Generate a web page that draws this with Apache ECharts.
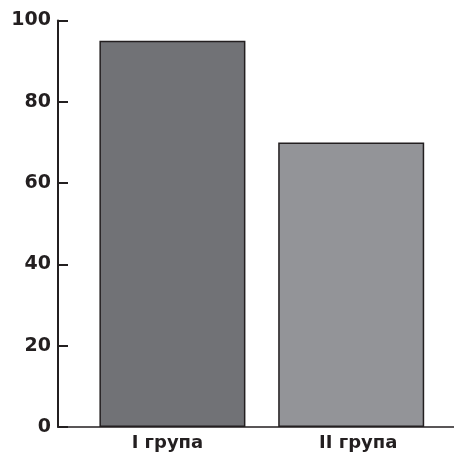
<!DOCTYPE html>
<html>
<head>
<meta charset="utf-8">
<script src="https://cdn.jsdelivr.net/npm/echarts@6/dist/echarts.min.js"></script>
<style>
html,body{margin:0;padding:0;background:#fff;}
#chart{width:454px;height:454px;}
</style>
</head>
<body>
<div id="chart"></div>
<script>
// Data
const categories = ['I група', 'II група'];
const categoryPositions = [1, 2];
const values = [95, 70];
const barColors = ['#717276', '#939498'];
const yTicks = [0, 20, 40, 60, 80, 100];

const chart = echarts.init(document.getElementById('chart'), null, {renderer: 'canvas'});
const ink = '#231f20';
const font = '"DejaVu Sans", Arial, sans-serif';
const labelStyle = {color: ink, fontFamily: font, fontWeight: 'bold', fontSize: 18};
const option = {
  animation: false,
  grid: {left: 58, right: 0, top: 20.5, bottom: 27, containLabel: false},
  xAxis: {
    type: 'value',
    min: 0.36,
    max: 2.575,
    axisLine: {show: true, lineStyle: {color: ink, width: 1.6}},
    axisTick: {show: false},
    splitLine: {show: false},
    axisLabel: {
      customValues: categoryPositions,
      formatter: function (v) {
        const i = categoryPositions.indexOf(v);
        return i >= 0 ? '{c' + i + '|' + categories[i] + '}' : '';
      },
      color: ink,
      fontFamily: font,
      fontWeight: 'bold',
      fontSize: 18,
      margin: 7,
      rich: {
        c0: Object.assign({padding: [0, 10, 0, 0]}, labelStyle),
        c1: Object.assign({padding: [0, 0, 0, 14]}, labelStyle)
      }
    }
  },
  yAxis: {
    type: 'value',
    min: 0,
    max: 100,
    interval: 20,
    axisLine: {show: true, lineStyle: {color: ink, width: 2}},
    axisTick: {show: true, inside: true, length: 10, lineStyle: {color: ink, width: 2}},
    splitLine: {show: false},
    axisLabel: {
      color: ink,
      fontFamily: font,
      fontWeight: 'bold',
      fontSize: 19,
      margin: 7,
      formatter: function (v) { return yTicks.indexOf(v) >= 0 ? String(v) : ''; }
    }
  },
  series: [{
    type: 'bar',
    barWidth: 146,
    data: values.map(function (v, i) {
      return {value: [categoryPositions[i], v], itemStyle: {color: barColors[i], borderColor: ink, borderWidth: 1.5}};
    })
  }]
};
chart.setOption(option);
</script>
</body>
</html>
